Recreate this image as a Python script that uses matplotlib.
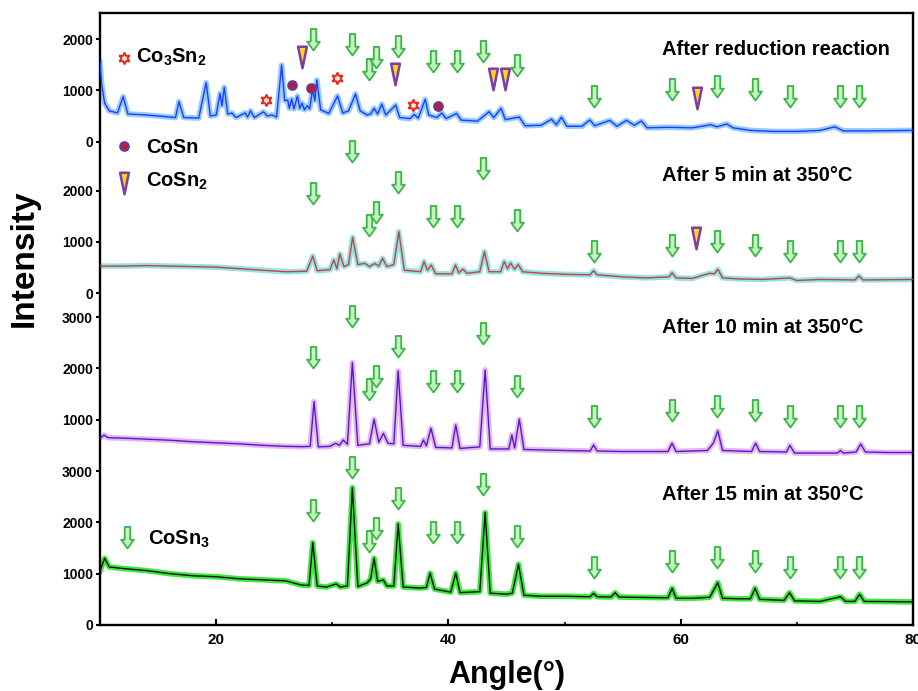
import numpy as np
import matplotlib.pyplot as plt
from matplotlib.path import Path

plt.rcParams['font.family'] = ['Liberation Sans', 'DejaVu Sans']
plt.rcParams['font.weight'] = 'bold'
plt.rcParams['mathtext.fontset'] = 'custom'
plt.rcParams['mathtext.rm'] = 'Liberation Sans:bold'
plt.rcParams['mathtext.default'] = 'rm'

# ---- patterns (2theta in degrees, intensity in counts, each panel on its own zero) ----
reduced_2theta = [10.0, 10.15, 10.4, 10.8, 11.5, 11.99, 12.4, 14.0, 16.0, 16.5, 16.8, 17.2, 18.5, 19.14,
                  19.5, 20.0, 20.34, 20.5, 20.7, 21.0, 21.36, 21.7, 22.5, 22.7, 22.96, 23.3, 24.07, 24.4,
                  24.8, 25.2, 25.64, 25.9, 26.16, 26.3, 26.5, 26.7, 27.0, 27.2, 27.4, 27.6, 27.85, 28.05,
                  28.3, 28.5, 28.67, 29.0, 29.7, 30.45, 30.9, 31.4, 32.0, 32.4, 33.0, 33.3, 33.6, 33.9,
                  34.26, 34.6, 35.46, 35.8, 36.7, 37.05, 37.4, 38.0, 38.3, 39.0, 39.43, 39.8, 40.7, 41.1,
                  42.5, 43.5, 43.9, 44.53, 44.9, 46.1, 46.6, 48.0, 48.87, 49.3, 49.73, 50.2, 51.5, 52.17,
                  52.6, 53.89, 54.5, 55.33, 56.0, 56.62, 57.1, 59.0, 61.0, 62.6, 63.1, 63.98, 64.5, 66.0,
                  68.0, 70.0, 72.0, 73.26, 74.0, 76.0, 78.0, 80.0]
reduced_counts = [1550, 1100, 750, 600, 560, 876, 540, 520, 480, 470, 780, 470, 460, 1150,
                  500, 520, 940, 700, 1059, 540, 560, 470, 560, 480, 602, 470, 582, 500,
                  520, 480, 1494, 800, 811, 650, 830, 640, 890, 650, 750, 620, 700, 640,
                  1007, 800, 1202, 620, 550, 890, 560, 600, 929, 600, 520, 540, 650, 540,
                  734, 520, 714, 470, 450, 530, 460, 826, 520, 470, 560, 450, 550, 420,
                  400, 584, 470, 650, 430, 480, 310, 320, 436, 330, 476, 300, 300, 423,
                  310, 416, 300, 416, 320, 403, 270, 280, 270, 330, 290, 345, 270, 220,
                  200, 200, 220, 290, 210, 210, 215, 220]

min5_2theta = [10.0, 12.0, 14.0, 16.0, 18.0, 20.0, 22.0, 24.0, 26.0, 27.8, 28.32, 28.7, 29.8, 30.13,
               30.4, 30.65, 31.0, 31.4, 31.75, 32.2, 32.8, 33.2, 33.66, 34.0, 34.33, 34.7, 35.3, 35.73,
               36.2, 37.6, 37.9, 38.2, 38.52, 38.9, 40.3, 40.6, 40.9, 41.25, 41.6, 42.7, 43.1, 43.5,
               44.5, 44.8, 45.1, 45.35, 45.7, 46.0, 46.4, 48.0, 50.0, 52.2, 52.5, 52.8, 55.0, 57.0,
               59.0, 59.25, 59.6, 61.0, 62.5, 62.9, 63.2, 63.6, 65.0, 67.0, 69.4, 70.0, 72.0, 75.0,
               75.35, 75.7, 78.0, 80.0]
min5_counts = [530, 530, 540, 530, 520, 510, 480, 450, 420, 430, 727, 440, 460, 650,
               480, 766, 520, 560, 1091, 560, 584, 520, 580, 530, 682, 520, 560, 1201,
               450, 420, 617, 450, 552, 380, 380, 550, 400, 470, 390, 420, 812, 420,
               420, 617, 480, 590, 470, 560, 420, 390, 370, 360, 440, 360, 320, 300,
               320, 400, 300, 290, 390, 380, 468, 300, 280, 270, 300, 250, 270, 260,
               340, 260, 265, 270]

min10_2theta = [10.0, 10.35, 10.7, 12.0, 14.0, 16.0, 18.0, 20.0, 22.0, 24.0, 26.0, 27.5, 28.1, 28.43,
                28.8, 29.8, 30.3, 30.6, 30.95, 31.3, 31.73, 32.2, 33.2, 33.6, 34.0, 34.4, 34.8, 35.3,
                35.67, 36.1, 37.6, 37.85, 38.1, 38.5, 38.9, 40.3, 40.63, 41.0, 42.7, 43.16, 43.6, 45.2,
                45.46, 45.7, 46.1, 46.5, 48.0, 50.0, 52.2, 52.5, 52.8, 55.0, 58.9, 59.25, 59.6, 62.3,
                62.8, 63.2, 63.6, 66.1, 66.45, 66.8, 69.1, 69.4, 69.8, 73.5, 73.76, 74.0, 75.1, 75.5,
                75.9, 78.0, 80.0]
min10_counts = [640, 700, 650, 640, 620, 600, 570, 550, 530, 500, 480, 474, 480, 1351,
                470, 480, 540, 500, 604, 520, 2111, 500, 530, 1008, 560, 735, 540, 530,
                1949, 500, 480, 604, 490, 832, 460, 450, 897, 440, 470, 1969, 430, 430,
                702, 450, 1008, 420, 410, 400, 390, 507, 390, 380, 380, 540, 380, 400,
                540, 780, 400, 380, 540, 380, 370, 500, 350, 350, 400, 350, 370, 526,
                370, 360, 360]

min15_2theta = [10.0, 10.4, 10.8, 12.0, 14.0, 16.0, 18.0, 20.0, 22.0, 24.0, 26.0, 27.3, 28.0, 28.32,
                28.7, 29.5, 30.33, 30.7, 31.3, 31.73, 32.2, 33.0, 33.3, 33.6, 33.9, 34.4, 34.7, 35.3,
                35.67, 36.1, 37.5, 38.1, 38.42, 38.8, 40.2, 40.63, 41.0, 42.7, 43.16, 43.6, 45.0, 45.5,
                46.03, 46.5, 48.0, 50.0, 52.2, 52.5, 52.8, 54.0, 54.35, 54.7, 56.0, 58.9, 59.26, 59.6,
                61.0, 62.5, 63.19, 63.6, 65.0, 66.0, 66.4, 66.8, 68.9, 69.37, 69.8, 72.0, 73.76, 74.2,
                75.0, 75.4, 75.8, 78.0, 80.0]
min15_counts = [1050, 1300, 1130, 1100, 1060, 1000, 960, 940, 900, 880, 860, 780, 770, 1605,
                760, 740, 800, 740, 760, 2676, 750, 820, 900, 1300, 850, 877, 760, 760,
                1970, 740, 720, 730, 1010, 700, 640, 1010, 630, 650, 2190, 620, 600, 620,
                1183, 580, 560, 560, 550, 617, 550, 545, 630, 545, 540, 530, 715, 520,
                520, 540, 825, 520, 510, 510, 715, 500, 480, 630, 470, 460, 550, 460,
                460, 600, 460, 455, 450]

# ---- phase markers ----
arrow_2theta = [28.3, 31.7, 33.2, 33.8, 35.7, 38.7, 40.7, 43.0, 45.9, 52.5, 59.25, 63.15, 66.4, 69.4, 73.7, 75.35]
arrow_tips_reduced = [1788, 1690, 1203, 1431, 1657, 1365, 1365, 1559, 1281, 671, 813, 877, 813, 671, 671, 671]
arrow_tips_5min = [1741, 2565, 1117, 1376, 1961, 1298, 1298, 2222, 1220, 616, 727, 811, 727, 616, 616, 616]
arrow_tips_10min = [2002, 2813, 1384, 1632, 2216, 1546, 1546, 2476, 1448, 852, 980, 1058, 980, 852, 852, 852]
arrow_tips_15min = [2033, 2865, 1430, 1676, 2261, 1598, 1598, 2534, 1526, 916, 1039, 1111, 1039, 916, 922, 922]

co3sn2_2theta = [24.26, 30.37, 36.96]
co3sn2_counts = [813, 1236, 715]
cosn_2theta = [26.55, 28.2, 39.1]
cosn_counts = [1105, 1041, 696]
cosn2_2theta = [27.37, 35.4, 43.85, 44.9, 61.36]
cosn2_counts = [1641, 1320, 1222, 1222, 842]
cosn2_5min_2theta = [61.3]
cosn2_5min_counts = [1082]

panel_titles = ['After reduction reaction', 'After 5 min at 350°C',
                'After 10 min at 350°C', 'After 15 min at 350°C']

# vertical offsets of the stacked panels (data units of the shared axis)
offsets = [9416, 6462, 3000, 0]
y_top = 11923

arrow_marker = Path([(0, 0), (6.5, 9), (2.8, 9), (2.8, 22), (-2.8, 22), (-2.8, 9), (-6.5, 9), (0, 0)],
                    [Path.MOVETO] + [Path.LINETO] * 6 + [Path.CLOSEPOLY])
tri_marker = Path([(-4.5, 11), (4.5, 11), (0, -11), (-4.5, 11)],
                  [Path.MOVETO, Path.LINETO, Path.LINETO, Path.CLOSEPOLY])

arrow_style = dict(marker=arrow_marker, markersize=31, markerfacecolor='#c4f5bc',
                   markeredgecolor='#3cb44b', markeredgewidth=1.3, linestyle='none', clip_on=False, zorder=5)
tri_style = dict(marker=tri_marker, markersize=15.5, markerfacecolor='#ffd21f',
                 markeredgecolor='#7b3fa6', markeredgewidth=1.8, linestyle='none', clip_on=False, zorder=5)
star_style = dict(marker=(6, 1, 0), markersize=8.5, markerfacecolor='#fff4c8',
                  markeredgecolor='#e82424', markeredgewidth=1.4, linestyle='none', clip_on=False, zorder=5)
circ_style = dict(marker='o', markersize=6.5, markerfacecolor='#b3203f',
                  markeredgecolor='#5b3f9e', markeredgewidth=1.2, linestyle='none', clip_on=False, zorder=5)

fig = plt.figure(figsize=(9.18, 6.91), dpi=100)
ax = fig.add_axes([100 / 918, 1 - 625 / 691, 813 / 918, 612 / 691])

patterns = [
    (reduced_2theta, reduced_counts, '#95cbff', '#1c3dff'),
    (min5_2theta, min5_counts, '#8fe6e6', '#d23c3c'),
    (min10_2theta, min10_counts, '#ebb2ee', '#4322cc'),
    (min15_2theta, min15_counts, '#3de83d', '#111111'),
]
for (tt, cnt, glow, col), off in zip(patterns, offsets):
    y = np.asarray(cnt) + off
    ax.plot(tt, y, color=glow, lw=4.0, solid_joinstyle='round', zorder=2)
    ax.plot(tt, y, color=col, lw=1.0, zorder=3)

for tips, off in zip([arrow_tips_reduced, arrow_tips_5min, arrow_tips_10min, arrow_tips_15min], offsets):
    ax.plot(arrow_2theta, np.asarray(tips) + off, **arrow_style)

ax.plot(co3sn2_2theta, np.asarray(co3sn2_counts) + offsets[0], **star_style)
ax.plot(cosn_2theta, np.asarray(cosn_counts) + offsets[0], **circ_style)
ax.plot(cosn2_2theta, np.asarray(cosn2_counts) + offsets[0], **tri_style)
ax.plot(cosn2_5min_2theta, np.asarray(cosn2_5min_counts) + offsets[1], **tri_style)

# key
kx = 0.029
ax.plot([kx], [0.926], transform=ax.transAxes, **star_style)
ax.plot([kx], [0.782], transform=ax.transAxes, **circ_style)
ax.plot([kx], [0.722], transform=ax.transAxes, **tri_style)
ax.plot([12.3], [1500], **arrow_style)
txt = dict(fontsize=14.5, fontweight='bold', transform=ax.transAxes, va='baseline', ha='left')
ax.text(0.044, 0.919, 'Co$_3$Sn$_2$', **txt)
ax.text(0.057, 0.771, 'CoSn', **txt)
ax.text(0.057, 0.716, 'CoSn$_2$', **txt)
ax.text(0.059, 0.132, 'CoSn$_3$', **txt)

for title, yb in zip(panel_titles, [0.932, 0.726, 0.4766, 0.2042]):
    ax.text(0.691, yb, title, **txt)

# axes
ax.set_xlim(10, 80)
ax.set_ylim(0, y_top)
ax.set_xticks([20, 40, 60, 80])
ax.set_xticks([30, 50, 70], minor=True)
yt, yl = [], []
for off, vals in zip(offsets, [[0, 1000, 2000], [0, 1000, 2000], [1000, 2000, 3000], [0, 1000, 2000, 3000]]):
    for v in vals:
        yt.append(off + v)
        yl.append(str(v))
ax.set_yticks(yt)
ax.set_yticklabels(yl)
ax.tick_params(axis='y', direction='out', length=3, width=1.5, labelsize=10, pad=2)
ax.tick_params(axis='x', which='major', direction='in', length=4, width=1.5, labelsize=11, pad=6)
ax.tick_params(axis='x', which='minor', direction='in', length=2.5, width=1.2)
for s in ax.spines.values():
    s.set_linewidth(1.7)

fig.text(24 / 918, 1 - 258 / 691, 'Intensity', rotation=90, fontsize=24, fontweight='bold',
         ha='center', va='center')
fig.text(507 / 918, 1 - 683 / 691, 'Angle(°)', fontsize=22, fontweight='bold', ha='center', va='baseline')

fig.savefig('out.png', dpi=100)
